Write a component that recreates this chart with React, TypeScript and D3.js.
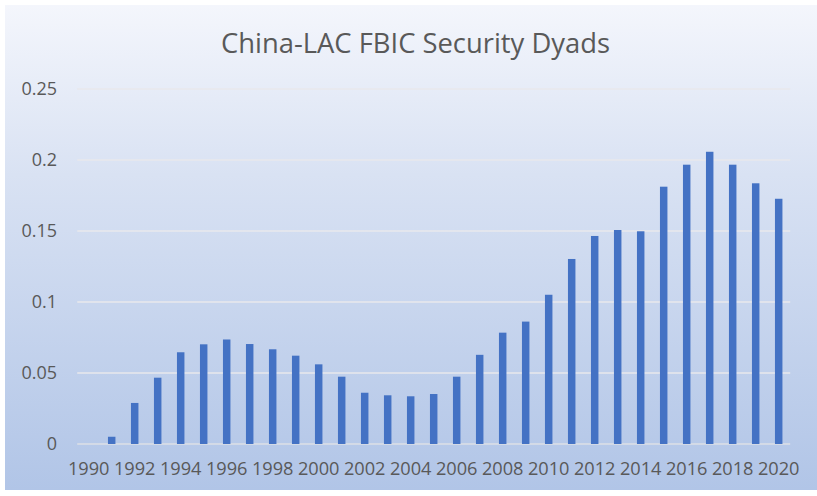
import React, { useEffect, useRef } from "react";
import * as d3 from "d3";

const years: number[] = d3.range(1990, 2021);
const values: number[] = [
  0, 0.0051, 0.0289, 0.0467, 0.0646, 0.0702, 0.0736, 0.0704, 0.0667, 0.0622,
  0.0561, 0.0474, 0.0361, 0.0343, 0.0336, 0.0352, 0.0474, 0.0628, 0.0784, 0.0862,
  0.1051, 0.1303, 0.1465, 0.1507, 0.1498, 0.1812, 0.1967, 0.2058, 0.1967, 0.1836,
  0.1727,
];
const yTicks: number[] = [0, 0.05, 0.1, 0.15, 0.2, 0.25];
const yTickLabels: string[] = ["0", "0.05", "0.1", "0.15", "0.2", "0.25"];
const title = "China-LAC FBIC Security Dyads";

const W = 817;
const H = 496;

export default function App() {
  const ref = useRef<SVGSVGElement>(null);

  useEffect(() => {
    const svg = d3.select(ref.current);
    svg.selectAll("*").remove();

    const defs = svg.append("defs");
    const grad = defs
      .append("linearGradient")
      .attr("id", "bg")
      .attr("x1", 0)
      .attr("y1", 0)
      .attr("x2", 0)
      .attr("y2", 1);
    grad.append("stop").attr("offset", "0%").attr("stop-color", "#f4f6fc");
    grad.append("stop").attr("offset", "35%").attr("stop-color", "#d9e2f3");
    grad.append("stop").attr("offset", "100%").attr("stop-color", "#b1c5e7");

    svg.append("rect").attr("width", W).attr("height", H).attr("fill", "#ffffff");
    svg
      .append("rect")
      .attr("x", 5)
      .attr("y", 5)
      .attr("width", W - 5)
      .attr("height", 485)
      .attr("fill", "url(#bg)");

    const plotL = 77.2;
    const plotR = 790.2;
    const x = d3
      .scaleBand<number>()
      .domain(years)
      .range([plotL, plotR])
      .paddingInner(0.675)
      .paddingOuter(0.3375);
    const y = d3.scaleLinear().domain([0, 0.25]).range([444, 89]);

    const textColor = "#595959";
    const font = "'Open Sans', sans-serif";

    // gridlines
    svg
      .append("g")
      .selectAll("line")
      .data(yTicks)
      .join("line")
      .attr("x1", plotL)
      .attr("x2", plotR)
      .attr("y1", (d) => y(d))
      .attr("y2", (d) => y(d))
      .attr("stroke", (d) => (d === 0 ? "#dcdfe6" : "#e8e8ec"))
      .attr("stroke-width", 1.6);

    // y tick labels
    svg
      .append("g")
      .selectAll("text")
      .data(yTicks)
      .join("text")
      .attr("x", 57)
      .attr("y", (d) => y(d))
      .attr("dy", "0.35em")
      .attr("text-anchor", "end")
      .attr("fill", textColor)
      .attr("font-family", font)
      .attr("font-size", 18)
      .text((_, i) => yTickLabels[i]);

    // bars
    svg
      .append("g")
      .selectAll("rect")
      .data(values)
      .join("rect")
      .attr("x", (_, i) => x(years[i])!)
      .attr("width", x.bandwidth())
      .attr("y", (d) => y(d))
      .attr("height", (d) => y(0) - y(d))
      .attr("fill", "#4472c4");

    // x labels every other year
    const labelYears = years.filter((yr) => yr % 2 === 0);
    svg
      .append("g")
      .selectAll("text")
      .data(labelYears)
      .join("text")
      .attr("x", (d) => x(d)! + x.bandwidth() / 2)
      .attr("y", 474.5)
      .attr("text-anchor", "middle")
      .attr("fill", textColor)
      .attr("font-family", font)
      .attr("font-size", 18.2)
      .text((d) => String(d));

    // title
    svg
      .append("text")
      .attr("x", 415.5)
      .attr("y", 53)
      .attr("text-anchor", "middle")
      .attr("fill", textColor)
      .attr("font-family", font)
      .attr("font-size", 26.5)
      .attr("textLength", 389)
      .attr("lengthAdjust", "spacingAndGlyphs")
      .text(title);
  }, []);

  return (
    <svg
      ref={ref}
      width={W}
      height={H}
      style={{ position: "fixed", left: 0, top: 0, display: "block" }}
    />
  );
}
